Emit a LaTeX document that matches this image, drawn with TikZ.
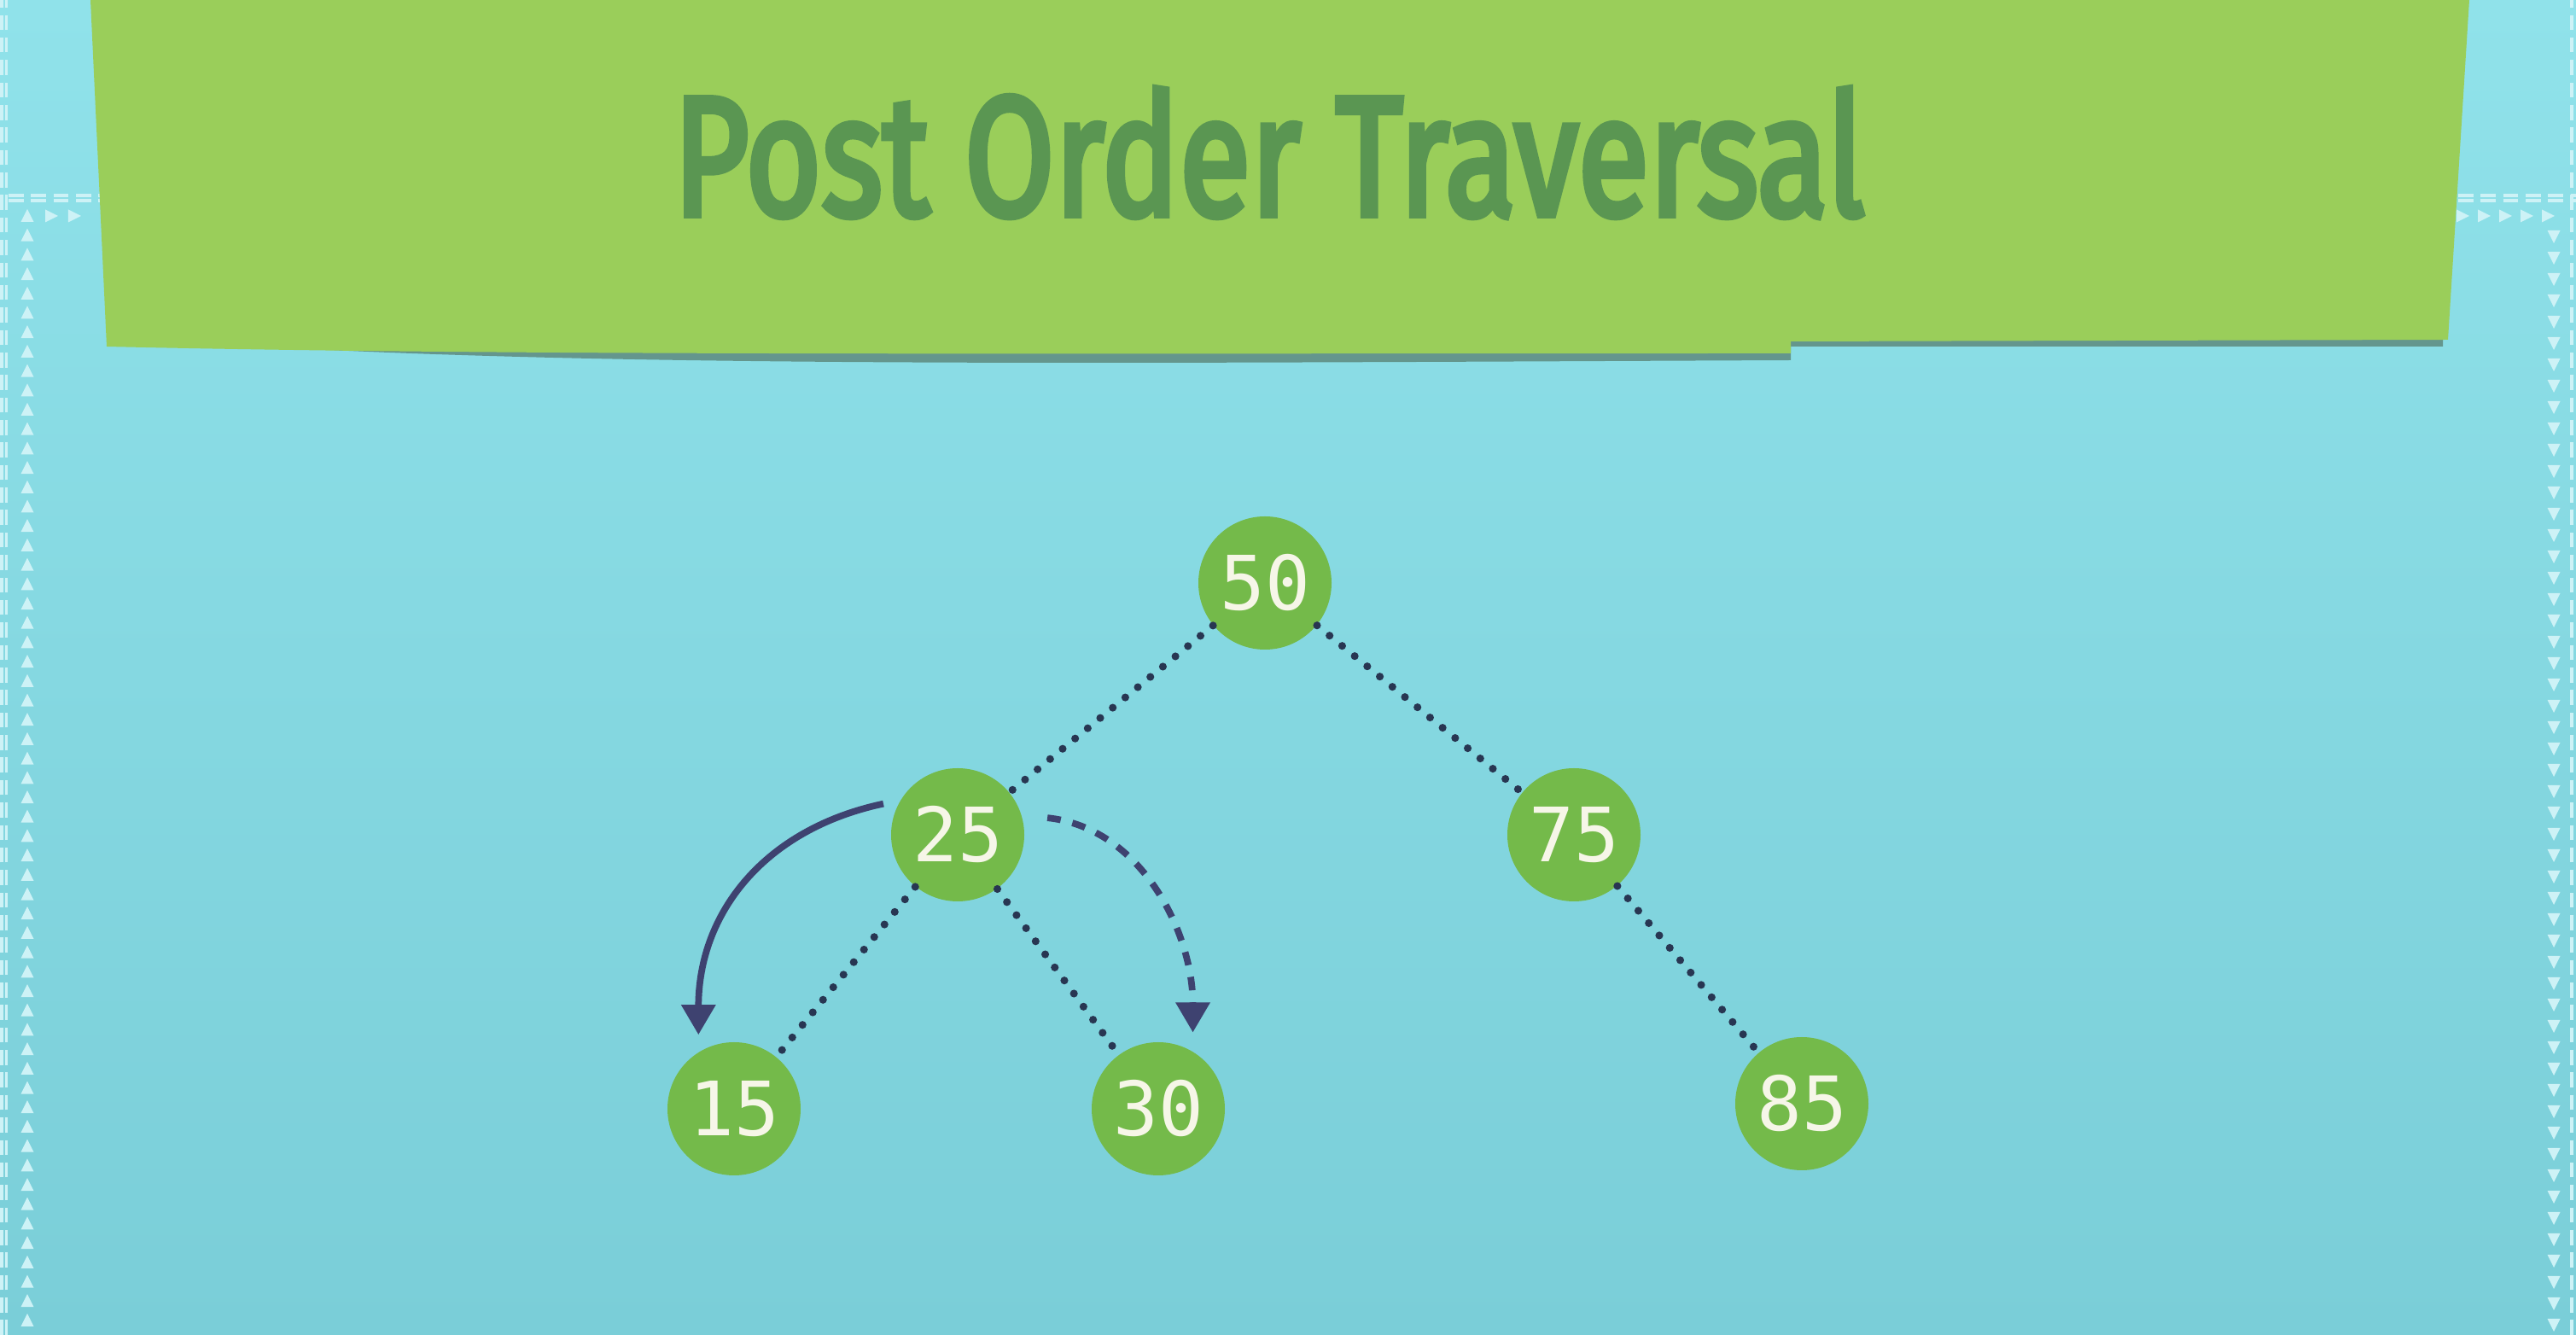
\documentclass[tikz,border=0pt]{standalone}
\usepackage{fontspec}
\usepackage{graphicx}
\usetikzlibrary{arrows.meta}
\newfontfamily\titlefont{Fira Sans}[FakeBold=4]
\newfontfamily\keyfont{DejaVu Sans Mono}
\definecolor{skytop}{RGB}{144,226,234}
\definecolor{skybottom}{RGB}{122,206,216}
\definecolor{banner}{RGB}{154,206,90}
\definecolor{bannershade}{RGB}{84,120,104}
\definecolor{titleink}{RGB}{90,150,82}
\definecolor{leaf}{RGB}{116,186,74}
\definecolor{keyink}{RGB}{246,246,232}
\definecolor{dotnavy}{RGB}{40,54,82}
\definecolor{arrownavy}{RGB}{62,66,112}
\definecolor{stitch}{RGB}{205,242,246}

\begin{document}
\begin{tikzpicture}[
    keynode/.style={circle, fill=leaf, minimum size=1.56cm, inner sep=0pt, text=keyink,
        font=\keyfont\fontsize{25}{25}\selectfont},
    link/.style={draw=dotnavy, line width=2.6pt, line cap=round, dash pattern=on 0pt off 5.4pt},
    visit/.style={draw=arrownavy, line width=2.2pt, -{Triangle[width=11pt,length=10pt]}},
    seam/.style={stitch, line width=0.9pt, dash pattern=on 5pt off 2.5pt},
]
    % Background
    \useasboundingbox (0,0) rectangle (30.18,15.64);
    \shade[top color=skytop, bottom color=skybottom] (0,0) rectangle (30.18,15.64);

    % Stitched border
    \draw[seam] (0.02,0) -- (0.02,15.64);
    \draw[seam] (0.075,0) -- (0.075,15.64);
    \draw[seam] (30.13,0) -- (30.13,15.64);
    \draw[seam] (0.1,13.35) -- (1.3,13.35);
    \draw[seam] (0.1,13.29) -- (1.3,13.29);
    \draw[seam] (28.8,13.35) -- (30.18,13.35);
    \draw[seam] (28.8,13.29) -- (30.18,13.29);
    \foreach \k in {0,...,57}
        \fill[stitch] (0.32,{13.11-0.227*\k}) ++(-0.075,-0.07) -- ++(0.15,0) -- ++(-0.075,0.15) -- cycle;
    \foreach \x in {0.60,0.87}
        \fill[stitch] (\x,13.11) ++(-0.07,-0.075) -- ++(0,0.15) -- ++(0.15,-0.075) -- cycle;
    \foreach \x in {28.85,29.10,29.35,29.60,29.85}
        \fill[stitch] (\x,13.11) ++(-0.07,-0.075) -- ++(0,0.15) -- ++(0.15,-0.075) -- cycle;
    \foreach \k in {0,...,52}
        \fill[stitch] (29.92,{12.87-0.25*\k}) ++(-0.075,0.07) -- ++(0.15,0) -- ++(-0.075,-0.15) -- cycle;

    % Title banner
    \fill[bannershade, opacity=0.7] (1.3,11.70) .. controls (6,11.32) and (12,11.38) .. (20.98,11.42)
        -- (20.98,11.58) -- (28.62,11.58) -- (28.62,11.75) -- cycle;
    \fill[banner] (1.06,15.64) -- (1.25,11.58) .. controls (6,11.47) and (12,11.50) .. (20.98,11.50)
        -- (20.98,11.64) -- (28.68,11.66) -- (28.93,15.64) -- cycle;
    \node[anchor=base, text=titleink, inner sep=0pt] (title) at (14.87,13.12)
        {\resizebox{13.96cm}{1.49cm}{\titlefont Post Order Traversal}};

    % Tree
    \node[keynode] (n50) at (14.82,8.81) {50};
    \node[keynode] (n25) at (11.22,5.86) {25};
    \node[keynode] (n75) at (18.44,5.86) {75};
    \node[keynode] (n15) at (8.60,2.65) {15};
    \node[keynode] (n30) at (13.57,2.65) {30};
    \node[keynode] (n85) at (21.11,2.71) {85};

    \draw[link] (n50) -- (n25);
    \draw[link] (n50) -- (n75);
    \draw[link] (n25) -- (n15);
    \draw[link] (n25) -- (n30);
    \draw[link] (n75) -- (n85);

    % Traversal arrows
    \draw[visit, shorten <=0.2cm, shorten >=0.2cm] (n25.149) to[out=192, in=90, looseness=1.1] (n15.122);
    \draw[visit, dashed, dash pattern=on 4.5pt off 4pt, shorten <=0.3cm, shorten >=0.22cm]
        (n25.17) to[out=-6, in=90, looseness=1.05] (n30.59);
\end{tikzpicture}
\end{document}
